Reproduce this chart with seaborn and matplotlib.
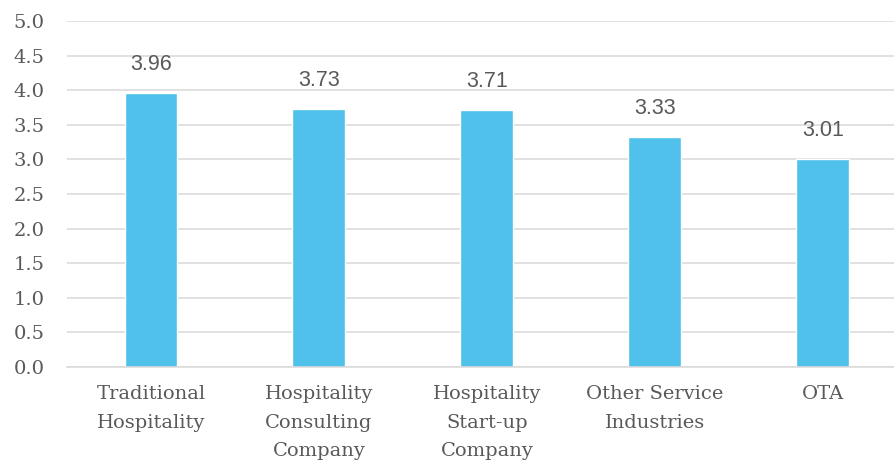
import matplotlib
matplotlib.use("Agg")
import matplotlib.pyplot as plt
import seaborn as sns
import pandas as pd

categories = [
    "Traditional\nHospitality",
    "Hospitality\nConsulting\nCompany",
    "Hospitality\nStart-up\nCompany",
    "Other Service\nIndustries",
    "OTA",
]
scores = [3.96, 3.73, 3.71, 3.33, 3.01]
y_ticks = [0.0, 0.5, 1.0, 1.5, 2.0, 2.5, 3.0, 3.5, 4.0, 4.5, 5.0]

df = pd.DataFrame({"category": categories, "score": scores})

sns.set_theme(style="white")
plt.rcParams["font.family"] = ["DejaVu Serif"]

text_color = "#595959"
bar_color = "#4FC1EA"
grid_color = "#D9D9D9"

fig = plt.figure(figsize=(8.95, 4.63), dpi=100)
ax = fig.add_axes([67 / 895, 96 / 463, (895 - 67) / 895, (367 - 21) / 463])

sns.barplot(data=df, x="category", y="score", color=bar_color, width=0.315,
            saturation=1, ax=ax, zorder=3)

ax.set_ylim(0, 5)
ax.set_xlim(-0.5, 4.43)
ax.set_yticks(y_ticks)
ax.set_yticklabels([f"{t:.1f}" for t in y_ticks])
ax.yaxis.grid(True, color=grid_color, linewidth=1.1, zorder=0)
ax.set_axisbelow(True)
for side in ["top", "right", "left"]:
    ax.spines[side].set_visible(False)
ax.spines["bottom"].set_color(grid_color)
ax.spines["bottom"].set_linewidth(1.1)
ax.spines["bottom"].set_zorder(4)

ax.set_xlabel("")
ax.set_ylabel("")
ax.tick_params(axis="both", length=0, colors=text_color, labelsize=14)
ax.tick_params(axis="y", pad=16)
ax.tick_params(axis="x", pad=13)
for lbl in ax.get_xticklabels():
    lbl.set_linespacing(1.75)

for i, v in enumerate(scores):
    ax.annotate(f"{v:.2f}", xy=(i, v), xytext=(0, 13), textcoords="offset points",
                ha="center", va="bottom", color=text_color, fontsize=15.5,
                family="Liberation Sans")

fig.savefig("out.png", dpi=100)
